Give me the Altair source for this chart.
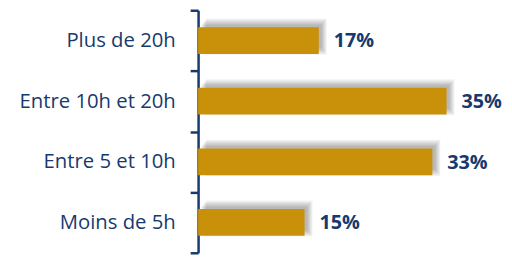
import altair as alt
import pandas as pd

categories = ["Plus de 20h", "Entre 10h et 20h", "Entre 5 et 10h", "Moins de 5h"]
values = [17, 35, 33, 15]
labels = ["17%", "35%", "33%", "15%"]

df = pd.DataFrame({"cat": categories, "val": values, "lab": labels})

NAVY = "#173A6E"
GOLD = "#C99009"

y_enc = alt.Y("cat:N", sort=categories,
              scale=alt.Scale(paddingInner=0, paddingOuter=0),
              axis=alt.Axis(title=None, tickBand="extent", domainColor=NAVY, domainWidth=2.5,
                            tickColor=NAVY, tickWidth=2.5, tickSize=8, labelPadding=15,
                            labelFont="Open Sans", labelFontSize=20.5, labelColor=NAVY,
                            labelFontWeight="normal", grid=False))
x_enc = alt.X("val:Q", scale=alt.Scale(domain=[0, 35]), axis=None)

base = alt.Chart(df)

shadows = []
for i in range(6):
    shadows.append(
        base.mark_bar(color="black", opacity=0.05, size=24 + 2.5 * i,
                      yOffset=-4, xOffset=3 + i, x2Offset=5 - i).encode(x=x_enc, y=y_enc)
    )

bars = base.mark_bar(color=GOLD, size=27).encode(x=x_enc, y=y_enc)
text = base.mark_text(align="left", baseline="middle", dx=15, dy=1, font="Open Sans",
                      fontSize=20, fontWeight="bold", color=NAVY).encode(
    x=x_enc, y=y_enc, text="lab:N")

chart = alt.layer(*shadows, bars, text).properties(
    width=251, height=245,
    autosize=alt.AutoSizeParams(type="none"),
    padding={"left": 192, "top": 1, "right": 58, "bottom": 4},
).configure(background="white").configure_view(stroke=None, strokeWidth=0)

chart.save("out.html", embed_options={"renderer": "svg", "actions": False})
